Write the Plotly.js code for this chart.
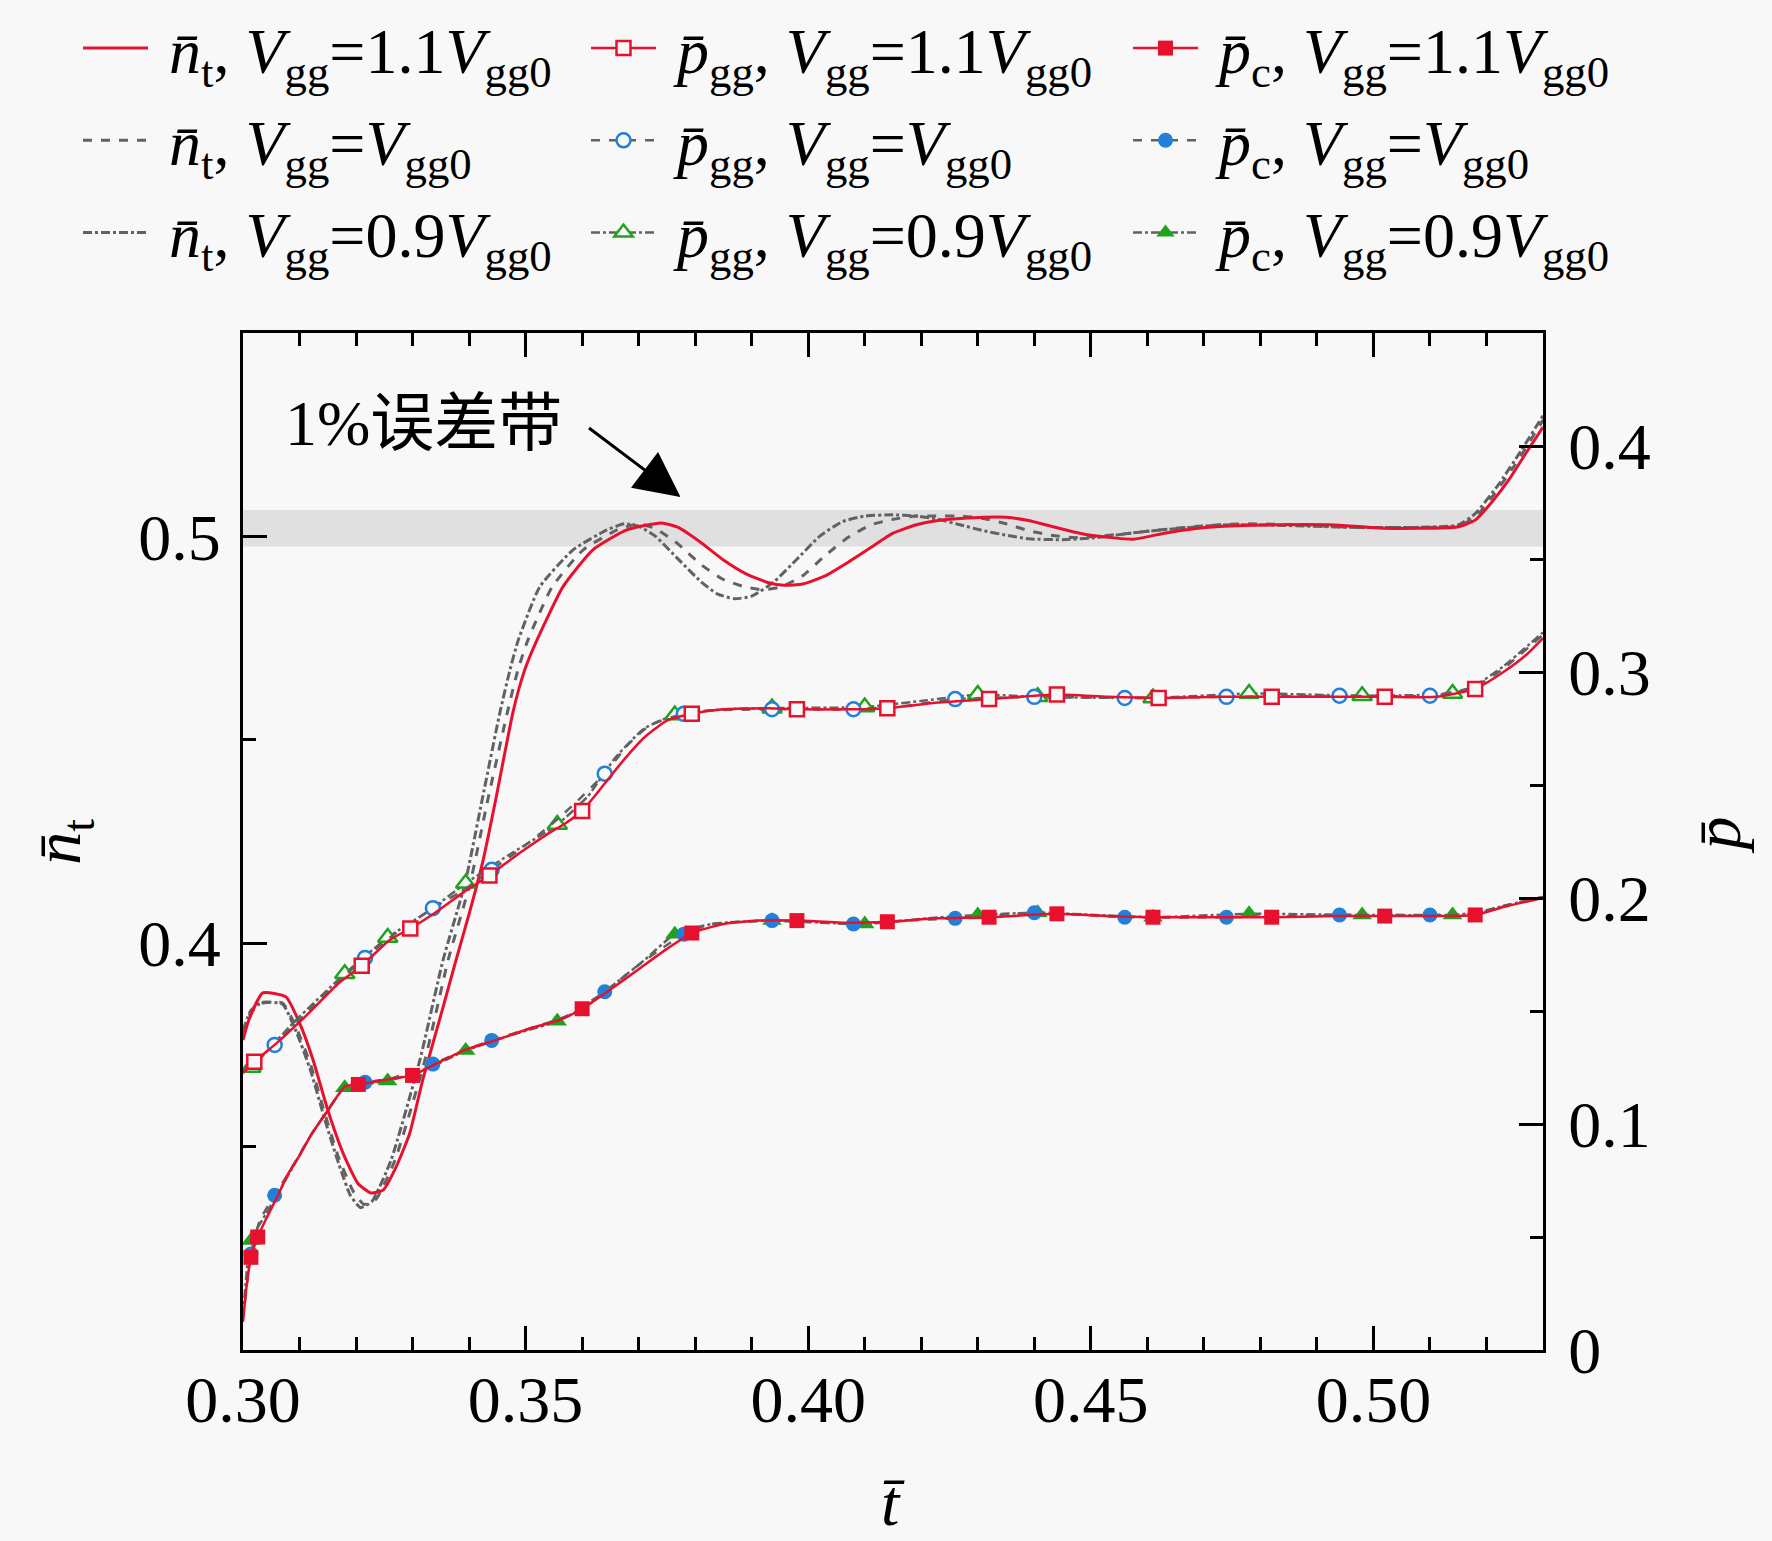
<!DOCTYPE html>
<html><head><meta charset="utf-8">
<script src="https://cdn.plot.ly/plotly-3.0.1.min.js"></script>
<style>html,body{margin:0;padding:0;background:#f8f8f8}</style>
</head><body>
<div id="chart" style="width:1772px;height:1541px"></div>
<script>
// ---- n_t (left axis) ----
const ntX_11 = [0.300,0.301,0.3035,0.3076,0.310,0.3124,0.315,0.3177,0.3203,0.3226,0.3248,0.3271,0.3295,0.3318,0.3354,0.3377,0.3402,0.3425,0.3447,0.3478,0.3498,0.352,0.3566,0.3619,0.3679,0.374,0.377,0.381,0.385,0.389,0.393,0.3957,0.399,0.403,0.407,0.411,0.415,0.419,0.423,0.427,0.431,0.435,0.439,0.443,0.447,0.450,0.4575,0.463,0.469,0.4715,0.481,0.4932,0.5019,0.5148,0.518,0.521,0.524,0.527,0.530];
const ntY_11 = [0.3762,0.3810,0.3878,0.3868,0.3804,0.3713,0.3590,0.3484,0.3410,0.3386,0.3393,0.3450,0.3533,0.3664,0.3843,0.3959,0.4082,0.4205,0.4352,0.4570,0.4670,0.4745,0.4876,0.4967,0.5016,0.5033,0.5022,0.4985,0.4942,0.4908,0.4886,0.4880,0.4883,0.4903,0.4936,0.4972,0.5008,0.5028,0.5039,0.5044,0.5047,0.5047,0.5039,0.5025,0.5011,0.5003,0.4993,0.5008,0.5020,0.5023,0.5028,0.5028,0.5020,0.5023,0.5040,0.5085,0.5140,0.5205,0.5269];
const ntX_10 = [0.300,0.3014,0.3035,0.307,0.3095,0.312,0.3145,0.317,0.3195,0.3214,0.3235,0.3269,0.3322,0.3363,0.3402,0.3433,0.3469,0.3487,0.3504,0.3547,0.3602,0.3662,0.370,0.373,0.377,0.381,0.385,0.389,0.392,0.395,0.399,0.403,0.407,0.411,0.415,0.419,0.423,0.427,0.431,0.435,0.439,0.443,0.447,0.451,0.457,0.463,0.469,0.477,0.487,0.497,0.507,0.515,0.518,0.521,0.525,0.530];
const ntY_10 = [0.3779,0.3830,0.3853,0.3853,0.3790,0.3700,0.3580,0.3470,0.3390,0.3358,0.3370,0.3467,0.3713,0.3959,0.4148,0.4352,0.4575,0.4675,0.4745,0.4876,0.4967,0.5016,0.5031,0.5019,0.4981,0.4931,0.4894,0.4875,0.4869,0.4875,0.4903,0.4953,0.4997,0.5028,0.5042,0.5050,0.5050,0.5050,0.5044,0.5031,0.5014,0.5003,0.4997,0.5000,0.5008,0.5017,0.5025,0.5031,0.5028,0.5022,0.5022,0.5025,0.5047,0.5097,0.5175,0.5286];
const ntX_09 = [0.300,0.3014,0.3035,0.307,0.3095,0.312,0.3145,0.317,0.319,0.3208,0.3228,0.3262,0.3313,0.3354,0.3393,0.3423,0.3455,0.3472,0.3487,0.3525,0.3584,0.3644,0.3675,0.370,0.373,0.377,0.381,0.384,0.387,0.390,0.394,0.398,0.402,0.406,0.410,0.415,0.419,0.423,0.427,0.431,0.435,0.439,0.445,0.451,0.457,0.465,0.473,0.481,0.489,0.497,0.507,0.515,0.518,0.522,0.526,0.530];
const ntY_09 = [0.3785,0.3835,0.3855,0.3850,0.3780,0.3685,0.3565,0.3455,0.3380,0.3350,0.3365,0.3467,0.3713,0.3959,0.4148,0.4352,0.4570,0.4670,0.4745,0.4876,0.4967,0.5016,0.5031,0.5025,0.5000,0.4944,0.4889,0.4858,0.4847,0.4853,0.4889,0.4944,0.5000,0.5036,0.5050,0.5053,0.5050,0.5042,0.5028,0.5014,0.5003,0.4994,0.4992,0.4997,0.5008,0.5019,0.5028,0.5028,0.5025,0.5022,0.5022,0.5028,0.5056,0.5125,0.5208,0.5297];

// ---- p_gg (right axis) ----
const pggX_11 = [0.300,0.302,0.3056,0.311,0.317,0.321,0.326,0.3296,0.334,0.339,0.3436,0.349,0.354,0.357,0.360,0.363,0.367,0.371,0.375,0.3794,0.385,0.393,0.398,0.407,0.414,0.423,0.432,0.444,0.453,0.462,0.473,0.482,0.492,0.502,0.511,0.518,0.523,0.527,0.530];
const pggY_11 = [0.1225,0.1275,0.135,0.1475,0.1625,0.170,0.1815,0.1865,0.1935,0.2025,0.210,0.220,0.2285,0.233,0.2385,0.2475,0.260,0.271,0.2785,0.2815,0.2835,0.284,0.2835,0.2835,0.284,0.2865,0.288,0.290,0.289,0.2885,0.289,0.289,0.289,0.289,0.289,0.2925,0.300,0.3075,0.315];
const pggM_11 = [0.302,0.321,0.3296,0.3436,0.360,0.3794,0.398,0.414,0.432,0.444,0.462,0.482,0.502,0.518];
const pggX_10 = [0.300,0.3056,0.311,0.317,0.3216,0.326,0.3336,0.339,0.344,0.349,0.355,0.359,0.364,0.368,0.372,0.378,0.383,0.3936,0.408,0.417,0.426,0.440,0.456,0.474,0.494,0.510,0.518,0.523,0.530];
const pggY_10 = [0.1235,0.135,0.1485,0.1635,0.1735,0.1825,0.1955,0.2035,0.2125,0.2215,0.2335,0.2425,0.255,0.2675,0.2765,0.2815,0.2830,0.2835,0.2835,0.285,0.288,0.289,0.2885,0.289,0.2895,0.2895,0.2935,0.3015,0.3165];
const pggM_10 = [0.3056,0.3216,0.3336,0.344,0.364,0.378,0.3936,0.408,0.426,0.440,0.456,0.474,0.494,0.510];
const pggX_09 = [0.300,0.3014,0.309,0.318,0.3256,0.333,0.3394,0.347,0.3556,0.361,0.366,0.371,0.3764,0.385,0.3936,0.410,0.421,0.430,0.4406,0.461,0.478,0.498,0.514,0.518,0.523,0.530];
const pggY_09 = [0.1235,0.125,0.145,0.1665,0.1825,0.1945,0.2065,0.219,0.2325,0.245,0.2625,0.275,0.281,0.2835,0.284,0.2845,0.2875,0.290,0.289,0.2885,0.2905,0.2895,0.2905,0.294,0.3025,0.3175];
const pggM_09 = [0.3014,0.318,0.3256,0.3394,0.3556,0.3764,0.3936,0.410,0.430,0.4406,0.461,0.478,0.498,0.514];

// ---- p_c (right axis) ----
const pcX_11 = [0.300,0.3006,0.3014,0.3026,0.304,0.306,0.308,0.310,0.312,0.315,0.318,0.3204,0.325,0.330,0.334,0.339,0.344,0.351,0.356,0.360,0.365,0.370,0.375,0.3794,0.385,0.391,0.398,0.407,0.414,0.423,0.432,0.444,0.453,0.461,0.473,0.482,0.493,0.502,0.511,0.518,0.523,0.530];
const pcY_11 = [0.0125,0.0275,0.041,0.050,0.0575,0.0675,0.078,0.086,0.095,0.106,0.1165,0.1175,0.1195,0.1215,0.1265,0.1325,0.1365,0.1425,0.146,0.151,0.1595,0.1685,0.1775,0.1845,0.1885,0.190,0.190,0.189,0.1895,0.191,0.1915,0.193,0.192,0.1915,0.1915,0.1915,0.192,0.192,0.192,0.1925,0.196,0.200];
const pcM_11 = [0.3014,0.3026,0.3204,0.330,0.360,0.3794,0.398,0.414,0.432,0.444,0.461,0.482,0.502,0.518];
const pcX_10 = [0.300,0.3014,0.303,0.3056,0.308,0.312,0.315,0.318,0.3216,0.326,0.3336,0.339,0.344,0.351,0.357,0.364,0.369,0.374,0.378,0.383,0.3936,0.408,0.417,0.426,0.440,0.456,0.474,0.494,0.510,0.518,0.523,0.530];
const pcY_10 = [0.0135,0.0425,0.0575,0.0685,0.078,0.095,0.106,0.1165,0.1185,0.120,0.1265,0.1325,0.137,0.1425,0.1475,0.1585,0.1685,0.1775,0.184,0.1885,0.190,0.1885,0.190,0.191,0.1935,0.1915,0.1915,0.1925,0.1925,0.193,0.1965,0.2005];
const pcM_10 = [0.3014,0.3056,0.3216,0.3336,0.344,0.364,0.378,0.3936,0.408,0.426,0.440,0.456,0.474,0.494,0.510];
const pcX_09 = [0.300,0.3014,0.304,0.306,0.3086,0.312,0.315,0.318,0.3256,0.333,0.3394,0.347,0.3556,0.361,0.366,0.371,0.3764,0.383,0.3936,0.410,0.421,0.430,0.4406,0.461,0.478,0.498,0.514,0.518,0.523,0.530];
const pcY_09 = [0.015,0.0485,0.060,0.0685,0.080,0.095,0.106,0.116,0.119,0.125,0.1325,0.139,0.1455,0.1525,0.1625,0.1725,0.184,0.1885,0.190,0.1885,0.191,0.1925,0.1935,0.1915,0.193,0.1925,0.1925,0.1935,0.1965,0.2005];
const pcM_09 = [0.3014,0.318,0.3256,0.3394,0.3556,0.3764,0.3936,0.410,0.430,0.4406,0.461,0.478,0.498,0.514];

// ---- labels / ticks ----
const nb = '<i>n\u0304</i><sub>t</sub>';
const pgg = '<i>p\u0304</i><sub>gg</sub>';
const pc = '<i>p\u0304</i><sub>c</sub>';
const cases = [', <i>V</i><sub>gg</sub>=1.1<i>V</i><sub>gg0</sub>',
               ', <i>V</i><sub>gg</sub>=<i>V</i><sub>gg0</sub>',
               ', <i>V</i><sub>gg</sub>=0.9<i>V</i><sub>gg0</sub>'];
const xTitle = '<i>t\u0304</i>', yTitle = nb, y2Title = '<i>p\u0304</i>';
const leftTicks = [0.4, 0.5];
const rightTicks = [0, 0.1, 0.2, 0.3, 0.4];
const bandLow = 0.4975, bandHigh = 0.5065;
const annText = '1%误差带';

const RED = '#e8112d', BLUE = '#2280d8', GREEN = '#1fa31f', GRAY = '#626262', BG = '#f8f8f8';
const SP = '\u00a0';

function lineTrace(name, xs, ys, color, dash, legend, rank, grp) {
  return {type:'scatter', mode:'lines', x:xs, y:ys, name:SP+name, yaxis:'y',
    line:{color:color, width:3, dash:dash, shape:'spline', smoothing:0.5},
    legend:legend, legendrank:rank, legendgroup:grp};
}
function markTrace(name, xs, ys, ms, color, lineColor, dash, symbol, filled, size, legend, rank, grp) {
  const sel = ms.map(v => xs.indexOf(v)).filter(i => i >= 0);
  return {type:'scatter', mode:'lines+markers', x:xs, y:ys, name:SP+name, yaxis:'y2',
    line:{color:lineColor, width:2.5, dash:dash, shape:'spline', smoothing:0.5},
    marker:{symbol:symbol, size:size, color: filled ? color : BG,
            line:{color:color, width: filled ? 0 : 2.5}},
    selectedpoints: sel, selected:{marker:{opacity:1}}, unselected:{marker:{opacity:0}},
    legend:legend, legendrank:rank, legendgroup:grp};
}

const data = [
  lineTrace(nb+cases[2], ntX_09, ntY_09, GRAY, 'dashdot', 'legend', 3, 'a3'),
  lineTrace(nb+cases[1], ntX_10, ntY_10, GRAY, 'dash', 'legend', 2, 'a2'),
  lineTrace(nb+cases[0], ntX_11, ntY_11, RED, 'solid', 'legend', 1, 'a1'),
  markTrace(pgg+cases[2], pggX_09, pggY_09, pggM_09, GREEN, GRAY, 'dashdot', 'triangle-up', false, 17, 'legend2', 3, 'b3'),
  markTrace(pgg+cases[1], pggX_10, pggY_10, pggM_10, BLUE, GRAY, 'dash', 'circle', false, 14, 'legend2', 2, 'b2'),
  markTrace(pgg+cases[0], pggX_11, pggY_11, pggM_11, RED, RED, 'solid', 'square', false, 14, 'legend2', 1, 'b1'),
  markTrace(pc+cases[2], pcX_09, pcY_09, pcM_09, GREEN, GRAY, 'dashdot', 'triangle-up', true, 17, 'legend3', 3, 'c3'),
  markTrace(pc+cases[1], pcX_10, pcY_10, pcM_10, BLUE, GRAY, 'dash', 'circle', true, 15, 'legend3', 2, 'c2'),
  markTrace(pc+cases[0], pcX_11, pcY_11, pcM_11, RED, RED, 'solid', 'square', true, 15, 'legend3', 1, 'c1')
];

const FONT = 'Liberation Serif, Times New Roman, serif';
const legendBase = {xref:'container', yref:'container', y:1, yanchor:'top', xanchor:'left',
  bgcolor:'rgba(0,0,0,0)', borderwidth:0, traceorder:'grouped', tracegroupgap:6,
  itemwidth:65, font:{family:FONT, size:64, color:'#000'}};

const axCommon = {showgrid:false, zeroline:false, showline:true, linecolor:'#000', linewidth:3,
  ticks:'inside', ticklen:24, tickwidth:3, tickcolor:'#000',
  tickfont:{family:FONT, size:66, color:'#000'}};
const minorTicks = {ticks:'inside', ticklen:13, tickwidth:3, tickcolor:'#000'};
const titleFont = {family:FONT, size:66, color:'#000'};

const layout = {
  width:1772, height:1541,
  margin:{l:243, r:229, t:333, b:191, pad:0, autoexpand:false},
  paper_bgcolor:BG, plot_bgcolor:BG,
  font:{family:FONT, color:'#000'},
  showlegend:true,
  legend: Object.assign({}, legendBase, {x:78/1772}),
  legend2: Object.assign({}, legendBase, {x:586/1772}),
  legend3: Object.assign({}, legendBase, {x:1128/1772}),
  xaxis: Object.assign({}, axCommon, {range:[0.30,0.53], tick0:0.30, dtick:0.05, tickformat:'.2f',
    mirror:'ticks', ticklabelstandoff:-10, minor:Object.assign({dtick:0.01}, minorTicks)}),
  yaxis: Object.assign({}, axCommon, {range:[0.30,0.55], tickmode:'array', tickvals:leftTicks,
    ticktext:leftTicks.map(v => v.toFixed(1)), ticklabelstandoff:6,
    minor:Object.assign({tickmode:'linear', tick0:0, dtick:0.05}, minorTicks)}),
  yaxis2: Object.assign({}, axCommon, {range:[0,0.45], tickmode:'array', tickvals:rightTicks,
    ticktext:rightTicks.map(v => v === 0 ? '0' : v.toFixed(1)), overlaying:'y', side:'right',
    ticklabelstandoff:9,
    minor:Object.assign({tickmode:'linear', tick0:0, dtick:0.05}, minorTicks)}),
  shapes:[{type:'rect', xref:'paper', yref:'y', x0:0, x1:1, y0:bandLow, y1:bandHigh,
    fillcolor:'#e0e0e0', line:{width:0}, layer:'below'}],
  annotations:[
    {xref:'x', yref:'y', x:0.307, y:0.5278, text:annText, showarrow:false, xanchor:'left', yanchor:'middle',
     font:{family:'Liberation Serif, Noto Sans CJK SC', size:64, color:'#000'}},
    {xref:'x', yref:'y', x:0.3774, y:0.5097, text:'', showarrow:true, ax:-93, ay:-70,
     arrowhead:2, arrowsize:3, arrowwidth:3, arrowcolor:'#000', standoff:0},
    {xref:'paper', yref:'paper', x:0.5, y:-0.15, text:xTitle, showarrow:false,
     xanchor:'center', yanchor:'middle', font:titleFont},
    {xref:'paper', yref:'paper', x:-0.139, y:0.5, text:yTitle, showarrow:false, textangle:-90,
     xanchor:'center', yanchor:'middle', font:titleFont},
    {xref:'paper', yref:'paper', x:1.134, y:0.506, text:y2Title, showarrow:false, textangle:-90,
     xanchor:'center', yanchor:'middle', font:titleFont}
  ]
};

Plotly.newPlot('chart', data, layout, {displayModeBar:false, staticPlot:true});
</script>
</body></html>
